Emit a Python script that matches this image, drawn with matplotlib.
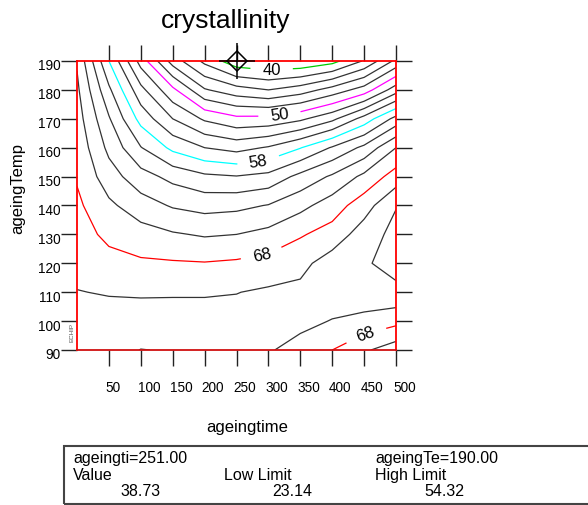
import numpy as np
import matplotlib.pyplot as plt
from matplotlib.patches import Rectangle
from matplotlib.transforms import ScaledTranslation

plt.rcParams['font.family'] = ['Liberation Sans', 'DejaVu Sans']

# response surface read on a 50 x 10 grid (rows: ageingTemp 190 -> 90)
ageing_time = np.arange(0, 501, 50)
ageing_temp = np.arange(190, 89, -10)
crystallinity = np.array([
    [65.8, 58.0, 51.2, 45.1, 41.5, 38.7, 38.2, 38.3, 39.3, 42.2, 46.5],
    [66.4, 60.4, 54.6, 50.5, 46.2, 44.8, 44.0, 45.0, 46.8, 48.9, 53.1],
    [66.9, 62.2, 57.3, 54.0, 51.7, 50.5, 50.6, 51.6, 53.5, 56.8, 60.7],
    [67.4, 63.5, 60.1, 57.5, 56.0, 55.3, 56.2, 57.9, 60.2, 62.5, 66.0],
    [67.8, 64.9, 62.8, 61.4, 60.4, 60.1, 60.6, 62.6, 64.3, 66.5, 68.9],
    [68.4, 66.4, 64.9, 63.8, 63.3, 63.5, 64.1, 65.4, 67.0, 69.1, 71.9],
    [68.9, 67.5, 66.8, 66.2, 65.8, 66.0, 66.6, 67.8, 68.8, 71.0, 72.6],
    [69.5, 68.7, 68.3, 68.2, 68.1, 68.3, 68.7, 69.4, 71.0, 71.8, 72.6],
    [70.05, 69.9, 69.8, 69.8, 69.8, 69.95, 70.3, 70.5, 71.2, 71.3, 71.6],
    [70.6, 70.6, 70.8, 70.9, 70.9, 70.7, 70.7, 70.6, 69.9, 69.4, 68.6],
    [71.1, 71.3, 72.04, 71.9, 71.6, 71.0, 70.2, 69.2, 68.0, 66.3, 64.9],
])

levels = np.arange(40, 73, 2)
level_colors = {40: '#00cc00', 50: '#ff00ff', 58: '#00ffff', 68: '#ff0000'}
label_spots = {40: [(305, 187)], 50: [(317, 172)], 58: [(284, 156)],
               68: [(287, 126), (452, 96)]}

cursor_time, cursor_temp = 251.0, 190.0
value, low_limit, high_limit = 38.73, 23.14, 54.32

W, H = 588, 506
fig = plt.figure(figsize=(W / 100, H / 100), dpi=100)
ax = fig.add_axes([77 / W, 1 - 351 / H, 319 / W, 289 / H])

X, Y = np.meshgrid(ageing_time, ageing_temp)
plain = [l for l in levels if int(l) not in level_colors]
ax.contour(X, Y, crystallinity, levels=plain, colors='#333333', linewidths=0.9)
# coloured levels get their own contour set so each can carry labels
for lev, col in level_colors.items():
    cs = ax.contour(X, Y, crystallinity, levels=[lev], colors=col, linewidths=0.9)
    ax.clabel(cs, manual=label_spots[lev], fmt='%d', fontsize=12,
              colors='black', inline=True, inline_spacing=12)

ax.set_xlim(0, 500)
ax.set_ylim(90, 190)
for sp in ax.spines.values():
    sp.set_color('red')
    sp.set_linewidth(1.3)
ax.spines['bottom'].set_color('#d01010')

ax.set_xticks(np.arange(50, 501, 50))
ax.set_yticks(np.arange(90, 191, 10))
ax.tick_params(axis='both', direction='out', length=11.5, width=1, color='#222222',
               labelsize=9.8, top=True, right=True, labeltop=False, labelright=False)
ax.tick_params(axis='x', pad=10)
ax.tick_params(axis='y', pad=0.5)
for lbl in ax.get_xticklabels():
    lbl.set_ha('left')
    lbl.set_transform(lbl.get_transform() + ScaledTranslation(-0.03, 0, fig.dpi_scale_trans))
for lbl in ax.get_yticklabels():
    lbl.set_transform(lbl.get_transform() + ScaledTranslation(0, -0.03, fig.dpi_scale_trans))

# cursor
ax.plot([cursor_time], [cursor_temp], marker='D', ms=10, mfc='none', mec='black',
        mew=1.1, clip_on=False, zorder=10)
ax.plot([cursor_time], [cursor_temp], marker='+', ms=26, mec='black', mew=1.1,
        clip_on=False, zorder=10)

ax.text(-0.015, 0.065, 'ECHIP', transform=ax.transAxes, rotation=90, fontsize=4.5,
        color='#555555', ha='center', va='center')

fig.text(226 / W, 1 - 28 / H, 'crystallinity', ha='center', va='baseline', fontsize=19)
fig.text(247 / W, 1 - 432 / H, 'ageingtime', ha='center', va='baseline', fontsize=12)
fig.text(18 / W, 1 - 189 / H, 'ageingTemp', ha='center', va='center', fontsize=12,
         rotation=90)

# readout box
fig.patches.append(Rectangle((64 / W, 1 - 504.5 / H), 540 / W, 58 / H, transform=fig.transFigure,
                             fill=False, edgecolor='#444444', linewidth=1.5))
box_fs = 11.5
fig.text(73 / W, 1 - 462.5 / H, f'ageingti={cursor_time:.2f}', fontsize=box_fs, va='baseline')
fig.text(375 / W, 1 - 462.5 / H, f'ageingTe={cursor_temp:.2f}', fontsize=box_fs, va='baseline')
fig.text(73 / W, 1 - 480.5 / H, 'Value', fontsize=box_fs, va='baseline')
fig.text(224 / W, 1 - 480.5 / H, 'Low Limit', fontsize=box_fs, va='baseline')
fig.text(375 / W, 1 - 480.5 / H, 'High Limit', fontsize=box_fs, va='baseline')
fig.text(161 / W, 1 - 496.5 / H, f'{value:.2f}', fontsize=box_fs, va='baseline', ha='right')
fig.text(312 / W, 1 - 496.5 / H, f'{low_limit:.2f}', fontsize=box_fs, va='baseline', ha='right')
fig.text(464 / W, 1 - 496.5 / H, f'{high_limit:.2f}', fontsize=box_fs, va='baseline', ha='right')

fig.savefig('out.png', dpi=100)
